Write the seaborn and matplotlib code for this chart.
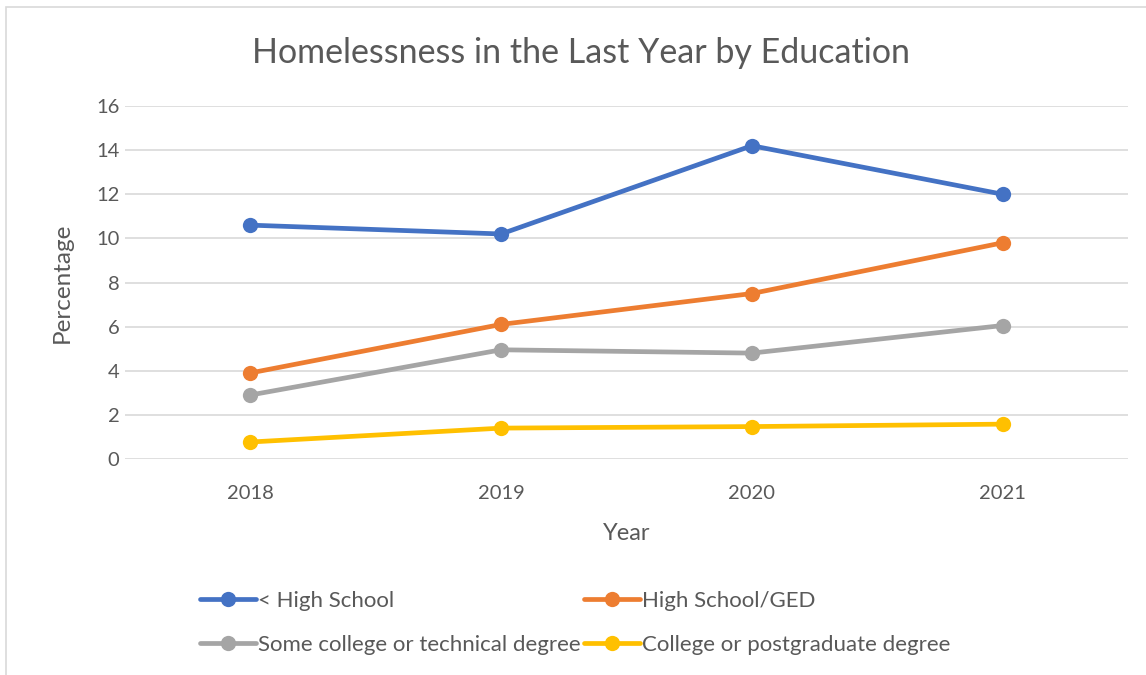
import matplotlib
matplotlib.use("Agg")
import matplotlib.pyplot as plt
import seaborn as sns
import pandas as pd
from matplotlib.patches import Rectangle

years = ["2018", "2019", "2020", "2021"]
less_hs = [10.6, 10.2, 14.2, 12.0]
hs_ged = [3.9, 6.1, 7.5, 9.8]
some_college = [2.9, 4.95, 4.8, 6.05]
college = [0.77, 1.4, 1.47, 1.58]
series_names = ["< High School", "High School/GED",
                "Some college or technical degree", "College or postgraduate degree"]
colors = ["#4472C4", "#ED7D31", "#A5A5A5", "#FFC000"]

rows = []
for name, vals in zip(series_names, [less_hs, hs_ged, some_college, college]):
    for y, v in zip(years, vals):
        rows.append({"Year": y, "Percentage": v, "Series": name})
df = pd.DataFrame(rows)

sns.set_theme(style="white")
plt.rcParams['font.family'] = ['Lato', 'DejaVu Sans']
text_color = "#595959"

fig = plt.figure(figsize=(11.46, 6.75), dpi=100)
ax = fig.add_axes([125/1146, 1-459/675, (1128-125)/1146, (459-106)/675])

sns.lineplot(data=df, x="Year", y="Percentage", hue="Series", hue_order=series_names,
             palette=colors, marker="o", markersize=11, markeredgewidth=0,
             linewidth=3.4, ax=ax, sort=False)

ax.set_xlim(-0.5, 3.5)
ax.set_ylim(0, 16)
ax.set_yticks(range(0, 17, 2))
ax.grid(axis="y", color="#D9D9D9", linewidth=1.2)
ax.set_axisbelow(True)
for s in ax.spines.values():
    s.set_visible(False)
ax.tick_params(axis="both", length=0, labelsize=14.5, colors=text_color)
ax.tick_params(axis="y", pad=4)
ax.tick_params(axis="x", pad=18.5)
ax.set_xlabel("Year", fontsize=17, color=text_color, labelpad=15)
ax.set_ylabel("Percentage", fontsize=17.5, color=text_color, labelpad=17)
fig.text(581/1146, 1-53/675, "Homelessness in the Last Year by Education", fontsize=24.5,
         color=text_color, ha="center", va="center")

handles, labels = ax.get_legend_handles_labels()
order = [0, 2, 1, 3]
leg = ax.legend([handles[i] for i in order], [labels[i] for i in order],
                ncol=2, loc="upper left", bbox_to_anchor=(200/1146, 1-591/675),
                bbox_transform=fig.transFigure, frameon=False, fontsize=16,
                handlelength=2.5, handletextpad=0.12, columnspacing=0.15,
                labelspacing=1.07, labelcolor=text_color, borderpad=0,
                borderaxespad=0)
for h in leg.legend_handles:
    h.set_markersize(11)

fig.patches.append(Rectangle((6/1146, -0.05), 1.2, 1-7/675+0.05, transform=fig.transFigure,
                             fill=False, edgecolor="#D9D9D9", linewidth=1.2))

fig.savefig("out.png", dpi=100, facecolor="white")
